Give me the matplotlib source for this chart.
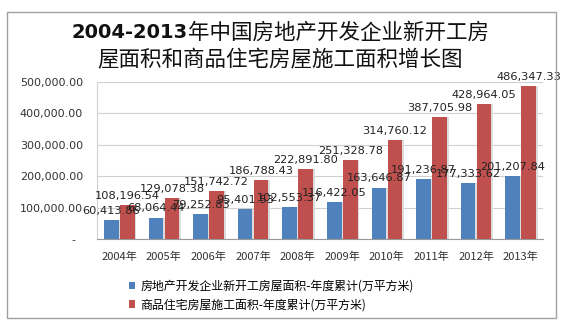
import numpy as np
import matplotlib
matplotlib.use("Agg")
import matplotlib.pyplot as plt
from matplotlib.patches import Rectangle
from matplotlib.ticker import FuncFormatter

plt.rcParams['font.family'] = ['Noto Sans CJK SC', 'DejaVu Sans']

years = ["2004年", "2005年", "2006年", "2007年", "2008年",
         "2009年", "2010年", "2011年", "2012年", "2013年"]
new_start = [60413.86, 68064.44, 79252.83, 95401.53, 102553.37,
             116422.05, 163646.87, 191236.87, 177333.62, 201207.84]
under_construction = [108196.54, 129078.38, 151742.72, 186788.43, 222891.80,
                      251328.78, 314760.12, 387705.98, 428964.05, 486347.33]
name_blue = "房地产开发企业新开工房屋面积-年度累计(万平方米)"
name_red = "商品住宅房屋施工面积-年度累计(万平方米)"

blue = "#4F81BD"
red = "#C0504D"

fig = plt.figure(figsize=(5.61, 3.25), dpi=100)
fig.patches.append(Rectangle((7 / 561, 1 - 318 / 325), 549 / 561, 306 / 325,
                             transform=fig.transFigure, fill=False,
                             edgecolor="#A0A0A0", linewidth=1))

ax = fig.add_axes([97 / 561, 1 - 239 / 325, 446 / 561, 157 / 325])
x = np.arange(len(years))
w = 0.33
off = 0.18
# soft shadow behind the bars
ax.bar(x - off + 0.04, new_start, w, color="#dcdcdc", zorder=1)
ax.bar(x + off + 0.04, under_construction, w, color="#dcdcdc", zorder=1)
b1 = ax.bar(x - off, new_start, w, color=blue, zorder=2, label=name_blue)
b2 = ax.bar(x + off, under_construction, w, color=red, zorder=2, label=name_red)

for bars, vals in ((b1, new_start), (b2, under_construction)):
    for r, v in zip(bars, vals):
        ax.annotate(f"{v:,.2f}", (r.get_x() + r.get_width() / 2, v),
                    xytext=(0, 3), textcoords="offset points",
                    ha="center", va="bottom", fontsize=8.2, color="#222222",
                    family="DejaVu Sans", zorder=3)

ax.set_xlim(-0.5, len(years) - 0.5)
ax.set_ylim(0, 500000)
ax.set_yticks(np.arange(0, 500001, 100000))
ax.yaxis.set_major_formatter(FuncFormatter(lambda v, p: "-  " if v == 0 else f"{v:,.2f}"))
ax.set_xticks(x)
ax.set_xticklabels(years)
ax.tick_params(axis="both", length=0, colors="#333333")
ax.tick_params(axis="x", pad=9, labelsize=8)
ax.tick_params(axis="y", pad=10, labelsize=8)
for lab in ax.get_yticklabels():
    lab.set_family("DejaVu Sans")
ax.grid(axis="y", color="#d0d0d0", linewidth=0.8, zorder=0)
ax.set_axisbelow(True)
for s in ("top", "right"):
    ax.spines[s].set_visible(False)
ax.spines["left"].set_color("#d0d0d0")
ax.spines["bottom"].set_color("#999999")

# title: digits bold, Chinese regular
fig.canvas.draw()
r = fig.canvas.get_renderer()
ty1 = 1 - 33 / 325
p1 = fig.text(0, ty1, "2004-2013", ha="left", va="center", fontsize=14,
              fontweight="bold", family="DejaVu Sans", color="#111111")
p2 = fig.text(0, ty1, "年中国房地产开发企业新开工房", ha="left", va="center",
              fontsize=15.5, color="#111111")
w1 = p1.get_window_extent(r).width / fig.bbox.width
w2 = p2.get_window_extent(r).width / fig.bbox.width
x0 = 0.5 - (w1 + w2) / 2
p1.set_x(x0)
p2.set_x(x0 + w1)
fig.text(0.5, 1 - 60 / 325, "屋面积和商品住宅房屋施工面积增长图",
         ha="center", va="center", fontsize=15.5, color="#111111")

fig.legend(handles=[b1, b2], loc="upper left", bbox_to_anchor=(124 / 561, 1 - 275 / 325),
           frameon=False, fontsize=8.6, handlelength=0.55, handleheight=0.55,
           handletextpad=0.45, labelspacing=0.45, borderaxespad=0)

fig.savefig("out.png", dpi=100)
